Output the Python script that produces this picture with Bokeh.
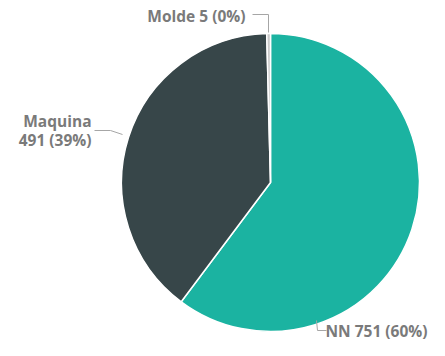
import numpy as np
from bokeh.plotting import figure
from bokeh.models import Range1d, ColumnDataSource
from bokeh.core.properties import value
from bokeh.embed import file_html
from bokeh.resources import INLINE

categories = ["NN", "Maquina", "Molde"]
counts = [751, 491, 5]
colors = ["#1bb3a1", "#374649", "#c9c9c9"]

total = float(sum(counts))
fracs = np.array(counts) / total
ang = fracs * 2 * np.pi
cum = np.concatenate([[0], np.cumsum(ang)])
starts = np.pi / 2 - cum[:-1]
ends = np.pi / 2 - cum[1:]

W, H = 429, 340
p = figure(width=W, height=H, output_backend="svg", toolbar_location=None,
           x_range=Range1d(0, W), y_range=Range1d(356 - H, 356),
           min_border=0)
p.axis.visible = False
p.grid.visible = False
p.outline_line_color = None
p.background_fill_color = "white"


def Y(v):
    return 356 - v


cx, cy, r = 270, Y(182), 149
src = ColumnDataSource(dict(x=[cx] * 3, y=[cy] * 3, start=starts, end=ends, color=colors))
p.wedge(x="x", y="y", radius=r, start_angle="start", end_angle="end", direction="clock",
        fill_color="color", line_color="white", line_width=1.5, source=src)

labels = [f"{c} {v} ({round(f*100):.0f}%)" for c, v, f in zip(categories, counts, fracs)]

lc = "#a6a6a6"
p.line([252, 268, 268], [Y(14), Y(14), Y(32)], line_color=lc, line_width=1)
p.line([94, 110, 122], [Y(130), Y(130), Y(134)], line_color=lc, line_width=1)
p.line([316, 317, 326], [Y(320), Y(330), Y(330)], line_color=lc, line_width=1)

tc = "#7a7a7a"
fs = "15.5px"
font = value("Open Sans")
p.text(x=[245], y=[Y(15)], text=[labels[2]], text_align="right", text_baseline="middle",
       text_font=font, text_font_style="bold", text_font_size=fs, text_color=tc)
p.text(x=[91, 91], y=[Y(120), Y(139)], text=[categories[1], f"{counts[1]} ({round(fracs[1]*100):.0f}%)"],
       text_align="right", text_baseline="middle",
       text_font=font, text_font_style="bold", text_font_size=fs, text_color=tc)
p.text(x=[427], y=[Y(330)], text=[labels[0]], text_align="right", text_baseline="middle",
       text_font=font, text_font_style="bold", text_font_size=fs, text_color=tc)

open("out.html", "w").write(file_html(p, INLINE))
